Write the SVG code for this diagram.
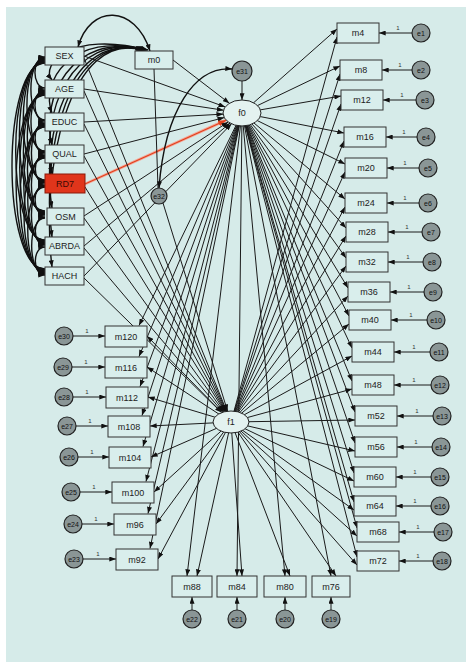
<svg xmlns="http://www.w3.org/2000/svg" width="466" height="662" viewBox="0 0 466 662">
<style>
.c{stroke:#1a1a1a;stroke-width:1;fill:none}
.cv{stroke:#111;stroke-width:1.4;fill:none;marker-start:url(#a);marker-end:url(#a)}
.ar{marker-end:url(#a)}
.bx{fill:#d9eeec;stroke:#333;stroke-width:1}
.t{font-family:"Liberation Sans",Arial,sans-serif;font-size:9px;fill:#222;text-anchor:middle;dominant-baseline:central}
.et{font-family:"Liberation Sans",Arial,sans-serif;font-size:7px;fill:#111;text-anchor:middle;dominant-baseline:central}
.one{font-family:"Liberation Sans",Arial,sans-serif;font-size:6px;fill:#333;text-anchor:middle}
.er{fill:#8a9696;stroke:#222;stroke-width:1.2}
.lv{fill:#e4f2f0;stroke:#222;stroke-width:1}
</style>
<defs>
<marker id="a" viewBox="0 0 8 6" refX="8" refY="3" markerWidth="7" markerHeight="5" markerUnits="userSpaceOnUse" orient="auto-start-reverse"><path d="M0,0L8,3L0,6z" fill="#111"/></marker>
<marker id="r" viewBox="0 0 8 6" refX="8" refY="3" markerWidth="8" markerHeight="6" markerUnits="userSpaceOnUse" orient="auto"><path d="M0,0L8,3L0,6z" fill="#e0401e"/></marker>
</defs>
<rect x="0" y="0" width="466" height="662" fill="#ffffff"/>
<rect x="6" y="7" width="460" height="655" fill="#d6ebe9"/>

<g id="connectors">
<!-- covariances among exogenous variables -->
<path class="cv" d="M45,57C31.6,57 31.6,88 45,88"/>
<path class="cv" d="M45,90C31.6,90 31.6,121 45,121"/>
<path class="cv" d="M45,123C31.8,123 31.8,153 45,153"/>
<path class="cv" d="M45,155C32.1,155 32.1,183 45,183"/>
<path class="cv" d="M45,185C31.8,185 31.8,215 45,215"/>
<path class="cv" d="M45,217C32.1,217 32.1,245 45,245"/>
<path class="cv" d="M45,247C32.1,247 32.1,275 45,275"/>
<path class="cv" d="M45,58C26.2,58 26.2,120 45,120"/>
<path class="cv" d="M45,91C26.3,91 26.3,152 45,152"/>
<path class="cv" d="M45,124C26.9,124 26.9,182 45,182"/>
<path class="cv" d="M45,156C26.9,156 26.9,214 45,214"/>
<path class="cv" d="M45,186C26.9,186 26.9,244 45,244"/>
<path class="cv" d="M45,218C27.2,218 27.2,274 45,274"/>
<path class="cv" d="M45,59C20.9,59 20.9,151 45,151"/>
<path class="cv" d="M45,92C21.4,92 21.4,181 45,181"/>
<path class="cv" d="M45,125C21.6,125 21.6,213 45,213"/>
<path class="cv" d="M45,157C22,157 22,243 45,243"/>
<path class="cv" d="M45,187C22,187 22,273 45,273"/>
<path class="cv" d="M45,60C16,60 16,180 45,180"/>
<path class="cv" d="M45,93C16.2,93 16.2,212 45,212"/>
<path class="cv" d="M45,126C16.7,126 16.7,242 45,242"/>
<path class="cv" d="M45,158C17,158 17,272 45,272"/>
<path class="cv" d="M45,61C10.8,61 10.8,211 45,211"/>
<path class="cv" d="M45,94C11.3,94 11.3,241 45,241"/>
<path class="cv" d="M45,127C11.8,127 11.8,271 45,271"/>
<path class="cv" d="M45,62C5.9,62 5.9,240 45,240"/>
<path class="cv" d="M45,95C6.4,95 6.4,270 45,270"/>
<path class="cv" d="M45,63C1,63 1,269 45,269"/>
<!-- covariances with m0 -->
<path class="cv" d="M78,47C90,4 135,4 150,51"/>
<path class="cv" d="M52,80C40,65 70,30 148,50"/>
<path class="cv" d="M52,113C40,83 70,30 147,50"/>
<path class="cv" d="M52,145C40,101 70,30 146,50"/>
<path class="cv" d="M52,174C40,116 70,30 145,50"/>
<path class="cv" d="M52,208C40,136 70,30 144,50"/>
<path class="cv" d="M52,237C40,151 70,30 143,50"/>
<path class="cv" d="M52,267C40,168 70,30 142,50"/>
<!-- exogenous to f0 -->
<line class="c ar" x1="84" y1="56" x2="225.2" y2="106.9"/>
<line class="c ar" x1="84" y1="89" x2="223.5" y2="110.2"/>
<line class="c ar" x1="84" y1="122" x2="223.1" y2="114.1"/>
<line class="c ar" x1="84" y1="154" x2="224.2" y2="117.6"/>
<line x1="85" y1="184" x2="226.1" y2="120.2" stroke="#f4a898" stroke-width="3"/>
<line x1="85" y1="184" x2="226.1" y2="120.2" stroke="#e0401e" stroke-width="1.2" marker-end="url(#r)"/>
<line class="c ar" x1="84" y1="216" x2="228.2" y2="122"/>
<line class="c ar" x1="84" y1="246" x2="230" y2="123.1"/>
<line class="c ar" x1="84" y1="276" x2="231.5" y2="123.8"/>
<line class="c ar" x1="173" y1="60" x2="229.4" y2="103.3"/>
<!-- exogenous to f1 -->
<line class="c ar" x1="84" y1="58" x2="226.7" y2="411.3"/>
<line class="c ar" x1="84" y1="91" x2="226.3" y2="411.4"/>
<line class="c ar" x1="84" y1="124" x2="225.8" y2="411.5"/>
<line class="c ar" x1="84" y1="156" x2="225.3" y2="411.6"/>
<line class="c ar" x1="85" y1="187" x2="224.7" y2="411.7"/>
<line class="c ar" x1="84" y1="218" x2="223.8" y2="411.9"/>
<line class="c ar" x1="84" y1="248" x2="222.8" y2="412.2"/>
<line class="c ar" x1="84" y1="278" x2="221.6" y2="412.6"/>
<line class="c" x1="154" y1="69" x2="158" y2="188"/>
<!-- disturbances -->
<line class="c ar" x1="242" y1="81" x2="242" y2="100"/>
<line class="c ar" x1="163" y1="203" x2="227.6" y2="411.2"/>
<path class="cv" d="M232,69C195,66 165,110 159,188"/>
<!-- f0 loadings -->
<g class="c ar">
<line x1="242" y1="113" x2="337" y2="29"/><line x1="242" y1="113" x2="340" y2="66"/>
<line x1="242" y1="113" x2="341" y2="96"/><line x1="242" y1="113" x2="344" y2="133"/>
<line x1="242" y1="113" x2="345" y2="164"/><line x1="242" y1="113" x2="345" y2="199"/>
<line x1="242" y1="113" x2="346" y2="228"/><line x1="242" y1="113" x2="346" y2="258"/>
<line x1="242" y1="113" x2="348" y2="288"/><line x1="242" y1="113" x2="349" y2="316"/>
<line x1="242" y1="113" x2="352" y2="348"/><line x1="242" y1="113" x2="352" y2="381"/>
<line x1="242" y1="113" x2="355" y2="412"/><line x1="242" y1="113" x2="355" y2="443"/>
<line x1="242" y1="113" x2="354" y2="473"/><line x1="242" y1="113" x2="354" y2="502"/>
<line x1="242" y1="113" x2="357" y2="528"/><line x1="242" y1="113" x2="357" y2="557"/>
<line x1="242" y1="113" x2="331" y2="576"/><line x1="242" y1="113" x2="285" y2="576"/>
<line x1="242" y1="113" x2="237" y2="576"/><line x1="242" y1="113" x2="187" y2="576"/>
<line x1="242" y1="113" x2="150" y2="548.5"/><line x1="242" y1="113" x2="148" y2="513.5"/>
<line x1="242" y1="113" x2="146" y2="481.5"/><line x1="242" y1="113" x2="143" y2="446.5"/>
<line x1="242" y1="113" x2="142" y2="415.5"/><line x1="242" y1="113" x2="140" y2="386.5"/>
<line x1="242" y1="113" x2="139" y2="356.5"/><line x1="242" y1="113" x2="139" y2="325.5"/>
</g>
<!-- f1 loadings -->
<g class="c ar">
<line x1="231" y1="422" x2="337" y2="37"/><line x1="231" y1="422" x2="340" y2="74"/>
<line x1="231" y1="422" x2="341" y2="104"/><line x1="231" y1="422" x2="344" y2="141"/>
<line x1="231" y1="422" x2="345" y2="172"/><line x1="231" y1="422" x2="345" y2="207"/>
<line x1="231" y1="422" x2="346" y2="236"/><line x1="231" y1="422" x2="346" y2="266"/>
<line x1="231" y1="422" x2="348" y2="296"/><line x1="231" y1="422" x2="349" y2="324"/>
<line x1="231" y1="422" x2="352" y2="356"/><line x1="231" y1="422" x2="352" y2="389"/>
<line x1="231" y1="422" x2="355" y2="420"/><line x1="231" y1="422" x2="355" y2="451"/>
<line x1="231" y1="422" x2="354" y2="481"/><line x1="231" y1="422" x2="354" y2="510"/>
<line x1="231" y1="422" x2="357" y2="536"/><line x1="231" y1="422" x2="357" y2="565"/>
<line x1="231" y1="422" x2="336" y2="576"/><line x1="231" y1="422" x2="290" y2="576"/>
<line x1="231" y1="422" x2="242" y2="576"/><line x1="231" y1="422" x2="197" y2="576"/>
<line x1="231" y1="422" x2="158" y2="559"/><line x1="231" y1="422" x2="156" y2="524"/>
<line x1="231" y1="422" x2="154" y2="492"/><line x1="231" y1="422" x2="151" y2="457"/>
<line x1="231" y1="422" x2="150" y2="426"/><line x1="231" y1="422" x2="148" y2="397"/>
<line x1="231" y1="422" x2="147" y2="367"/><line x1="231" y1="422" x2="147" y2="336"/>
</g>
<!-- error terms to items -->
<g class="c ar">
<line x1="412" y1="33" x2="379" y2="33"/><line x1="412" y1="70" x2="382" y2="70"/>
<line x1="416" y1="100" x2="383" y2="100"/><line x1="417" y1="137" x2="386" y2="137"/>
<line x1="419" y1="168" x2="387" y2="168"/><line x1="419" y1="203" x2="387" y2="203"/>
<line x1="422" y1="232" x2="388" y2="232"/><line x1="423" y1="262" x2="388" y2="262"/>
<line x1="424" y1="292" x2="390" y2="292"/><line x1="427" y1="320" x2="391" y2="320"/>
<line x1="430" y1="352" x2="394" y2="352"/><line x1="431" y1="385" x2="394" y2="385"/>
<line x1="433" y1="416" x2="397" y2="416"/><line x1="432" y1="447" x2="397" y2="447"/>
<line x1="431" y1="477" x2="396" y2="477"/><line x1="431" y1="506" x2="396" y2="506"/>
<line x1="434" y1="532" x2="399" y2="532"/><line x1="433" y1="561" x2="399" y2="561"/>
<line x1="73" y1="336" x2="105" y2="336"/><line x1="72" y1="367" x2="105" y2="367"/>
<line x1="73" y1="397" x2="106" y2="397"/><line x1="76" y1="426" x2="108" y2="426"/>
<line x1="78" y1="457" x2="109" y2="457"/><line x1="80" y1="492" x2="112" y2="492"/>
<line x1="82" y1="524" x2="114" y2="524"/><line x1="83" y1="559" x2="116" y2="559"/>
<line x1="192" y1="610" x2="192" y2="597"/><line x1="237" y1="610" x2="237" y2="597"/>
<line x1="285" y1="610" x2="285" y2="597"/><line x1="331" y1="610" x2="331" y2="597"/>
</g>
<g>
<text class="one" x="398" y="30">1</text><text class="one" x="400" y="67">1</text>
<text class="one" x="402" y="97">1</text><text class="one" x="404" y="134">1</text>
<text class="one" x="405" y="165">1</text><text class="one" x="405" y="200">1</text>
<text class="one" x="407" y="229">1</text><text class="one" x="408" y="259">1</text>
<text class="one" x="409" y="289">1</text><text class="one" x="411" y="317">1</text>
<text class="one" x="414" y="349">1</text><text class="one" x="414" y="382">1</text>
<text class="one" x="417" y="413">1</text><text class="one" x="416" y="444">1</text>
<text class="one" x="415" y="474">1</text><text class="one" x="415" y="503">1</text>
<text class="one" x="418" y="529">1</text><text class="one" x="418" y="558">1</text>
<text class="one" x="87" y="333">1</text><text class="one" x="86" y="364">1</text>
<text class="one" x="87" y="394">1</text><text class="one" x="90" y="423">1</text>
<text class="one" x="92" y="454">1</text><text class="one" x="94" y="489">1</text>
<text class="one" x="96" y="521">1</text><text class="one" x="98" y="556">1</text>
</g>
</g>

<!-- exogenous observed variables -->
<g id="SEX"><rect class="bx" x="45" y="47" width="39" height="18"/><text class="t" x="64.5" y="56">SEX</text></g>
<g id="AGE"><rect class="bx" x="45" y="80" width="39" height="18"/><text class="t" x="64.5" y="89">AGE</text></g>
<g id="EDUC"><rect class="bx" x="45" y="113" width="39" height="18"/><text class="t" x="64.5" y="122">EDUC</text></g>
<g id="QUAL"><rect class="bx" x="45" y="145" width="39" height="18"/><text class="t" x="64.5" y="154">QUAL</text></g>
<g id="RD7"><rect x="45" y="174" width="40" height="19" fill="#e0351b" stroke="#8a1a0a"/><text class="t" x="65" y="184" style="fill:#3a0a04">RD7</text></g>
<g id="OSM"><rect class="bx" x="47" y="208" width="37" height="17"/><text class="t" x="65.5" y="216.5">OSM</text></g>
<g id="ABRDA"><rect class="bx" x="45" y="237" width="39" height="18"/><text class="t" x="64.5" y="246">ABRDA</text></g>
<g id="HACH"><rect class="bx" x="45" y="267" width="39" height="18"/><text class="t" x="64.5" y="276">HACH</text></g>
<g id="m0"><rect class="bx" x="135" y="51" width="38" height="18"/><text class="t" x="154" y="60">m0</text></g>

<!-- latent factors -->
<g id="f0"><ellipse class="lv" cx="242" cy="113" rx="19" ry="13"/><text class="t" x="242" y="113">f0</text></g>
<g id="f1"><ellipse class="lv" cx="231" cy="422" rx="18" ry="11"/><text class="t" x="231" y="422">f1</text></g>
<g id="e31"><circle class="er" cx="242" cy="71" r="10"/><text class="et" x="242" y="71">e31</text></g>
<g id="e32"><circle class="er" cx="159" cy="196" r="8"/><text class="et" x="159" y="196">e32</text></g>

<!-- right items -->
<g id="m4"><rect class="bx" x="337" y="23" width="42" height="20"/><text class="t" x="358" y="33">m4</text></g>
<g id="m8"><rect class="bx" x="340" y="60" width="42" height="20"/><text class="t" x="361" y="70">m8</text></g>
<g id="m12"><rect class="bx" x="341" y="90" width="42" height="20"/><text class="t" x="362" y="100">m12</text></g>
<g id="m16"><rect class="bx" x="344" y="127" width="42" height="20"/><text class="t" x="365" y="137">m16</text></g>
<g id="m20"><rect class="bx" x="345" y="158" width="42" height="20"/><text class="t" x="366" y="168">m20</text></g>
<g id="m24"><rect class="bx" x="345" y="193" width="42" height="20"/><text class="t" x="366" y="203">m24</text></g>
<g id="m28"><rect class="bx" x="346" y="222" width="42" height="20"/><text class="t" x="367" y="232">m28</text></g>
<g id="m32"><rect class="bx" x="346" y="252" width="42" height="20"/><text class="t" x="367" y="262">m32</text></g>
<g id="m36"><rect class="bx" x="348" y="282" width="42" height="20"/><text class="t" x="369" y="292">m36</text></g>
<g id="m40"><rect class="bx" x="349" y="310" width="42" height="20"/><text class="t" x="370" y="320">m40</text></g>
<g id="m44"><rect class="bx" x="352" y="342" width="42" height="20"/><text class="t" x="373" y="352">m44</text></g>
<g id="m48"><rect class="bx" x="352" y="375" width="42" height="20"/><text class="t" x="373" y="385">m48</text></g>
<g id="m52"><rect class="bx" x="355" y="406" width="42" height="20"/><text class="t" x="376" y="416">m52</text></g>
<g id="m56"><rect class="bx" x="355" y="437" width="42" height="20"/><text class="t" x="376" y="447">m56</text></g>
<g id="m60"><rect class="bx" x="354" y="467" width="42" height="20"/><text class="t" x="375" y="477">m60</text></g>
<g id="m64"><rect class="bx" x="354" y="496" width="42" height="20"/><text class="t" x="375" y="506">m64</text></g>
<g id="m68"><rect class="bx" x="357" y="522" width="42" height="20"/><text class="t" x="378" y="532">m68</text></g>
<g id="m72"><rect class="bx" x="357" y="551" width="42" height="20"/><text class="t" x="378" y="561">m72</text></g>

<!-- bottom items -->
<g id="m88"><rect class="bx" x="172" y="576" width="40" height="21"/><text class="t" x="192" y="586.5">m88</text></g>
<g id="m84"><rect class="bx" x="217" y="576" width="40" height="21"/><text class="t" x="237" y="586.5">m84</text></g>
<g id="m80"><rect class="bx" x="264" y="576" width="42" height="21"/><text class="t" x="285" y="586.5">m80</text></g>
<g id="m76"><rect class="bx" x="312" y="576" width="38" height="21"/><text class="t" x="331" y="586.5">m76</text></g>

<!-- left items -->
<g id="m120"><rect class="bx" x="105" y="326" width="42" height="21"/><text class="t" x="126" y="336.5">m120</text></g>
<g id="m116"><rect class="bx" x="105" y="357" width="42" height="21"/><text class="t" x="126" y="367.5">m116</text></g>
<g id="m112"><rect class="bx" x="106" y="387" width="42" height="21"/><text class="t" x="127" y="397.5">m112</text></g>
<g id="m108"><rect class="bx" x="108" y="416" width="42" height="21"/><text class="t" x="129" y="426.5">m108</text></g>
<g id="m104"><rect class="bx" x="109" y="447" width="42" height="21"/><text class="t" x="130" y="457.5">m104</text></g>
<g id="m100"><rect class="bx" x="112" y="482" width="42" height="21"/><text class="t" x="133" y="492.5">m100</text></g>
<g id="m96"><rect class="bx" x="114" y="514" width="42" height="21"/><text class="t" x="135" y="524.5">m96</text></g>
<g id="m92"><rect class="bx" x="116" y="549" width="42" height="21"/><text class="t" x="137" y="559.5">m92</text></g>

<!-- error terms -->
<g id="e1"><circle class="er" cx="421" cy="33" r="9"/><text class="et" x="421" y="33">e1</text></g>
<g id="e2"><circle class="er" cx="421" cy="70" r="9"/><text class="et" x="421" y="70">e2</text></g>
<g id="e3"><circle class="er" cx="425" cy="100" r="9"/><text class="et" x="425" y="100">e3</text></g>
<g id="e4"><circle class="er" cx="426" cy="137" r="9"/><text class="et" x="426" y="137">e4</text></g>
<g id="e5"><circle class="er" cx="428" cy="168" r="9"/><text class="et" x="428" y="168">e5</text></g>
<g id="e6"><circle class="er" cx="428" cy="203" r="9"/><text class="et" x="428" y="203">e6</text></g>
<g id="e7"><circle class="er" cx="431" cy="232" r="9"/><text class="et" x="431" y="232">e7</text></g>
<g id="e8"><circle class="er" cx="432" cy="262" r="9"/><text class="et" x="432" y="262">e8</text></g>
<g id="e9"><circle class="er" cx="433" cy="292" r="9"/><text class="et" x="433" y="292">e9</text></g>
<g id="e10"><circle class="er" cx="436" cy="320" r="9"/><text class="et" x="436" y="320">e10</text></g>
<g id="e11"><circle class="er" cx="439" cy="352" r="9"/><text class="et" x="439" y="352">e11</text></g>
<g id="e12"><circle class="er" cx="440" cy="385" r="9"/><text class="et" x="440" y="385">e12</text></g>
<g id="e13"><circle class="er" cx="442" cy="416" r="9"/><text class="et" x="442" y="416">e13</text></g>
<g id="e14"><circle class="er" cx="441" cy="447" r="9"/><text class="et" x="441" y="447">e14</text></g>
<g id="e15"><circle class="er" cx="440" cy="477" r="9"/><text class="et" x="440" y="477">e15</text></g>
<g id="e16"><circle class="er" cx="440" cy="506" r="9"/><text class="et" x="440" y="506">e16</text></g>
<g id="e17"><circle class="er" cx="443" cy="532" r="9"/><text class="et" x="443" y="532">e17</text></g>
<g id="e18"><circle class="er" cx="442" cy="561" r="9"/><text class="et" x="442" y="561">e18</text></g>
<g id="e19"><circle class="er" cx="331" cy="619" r="9"/><text class="et" x="331" y="619">e19</text></g>
<g id="e20"><circle class="er" cx="285" cy="619" r="9"/><text class="et" x="285" y="619">e20</text></g>
<g id="e21"><circle class="er" cx="237" cy="619" r="9"/><text class="et" x="237" y="619">e21</text></g>
<g id="e22"><circle class="er" cx="192" cy="619" r="9"/><text class="et" x="192" y="619">e22</text></g>
<g id="e23"><circle class="er" cx="74" cy="559" r="9"/><text class="et" x="74" y="559">e23</text></g>
<g id="e24"><circle class="er" cx="73" cy="524" r="9"/><text class="et" x="73" y="524">e24</text></g>
<g id="e25"><circle class="er" cx="71" cy="492" r="9"/><text class="et" x="71" y="492">e25</text></g>
<g id="e26"><circle class="er" cx="69" cy="457" r="9"/><text class="et" x="69" y="457">e26</text></g>
<g id="e27"><circle class="er" cx="67" cy="426" r="9"/><text class="et" x="67" y="426">e27</text></g>
<g id="e28"><circle class="er" cx="64" cy="397" r="9"/><text class="et" x="64" y="397">e28</text></g>
<g id="e29"><circle class="er" cx="63" cy="367" r="9"/><text class="et" x="63" y="367">e29</text></g>
<g id="e30"><circle class="er" cx="64" cy="336" r="9"/><text class="et" x="64" y="336">e30</text></g>
</svg>
